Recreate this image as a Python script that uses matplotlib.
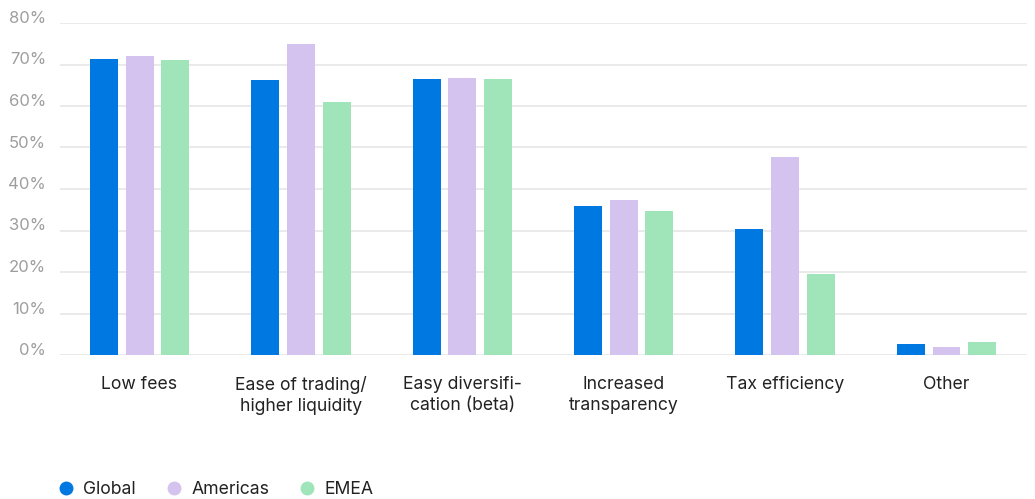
import numpy as np
import matplotlib.pyplot as plt
from matplotlib.lines import Line2D
from matplotlib.ticker import FuncFormatter

plt.rcParams['font.family'] = ['Inter', 'DejaVu Sans']

categories = ['Low fees', 'Ease of trading/\nhigher liquidity', 'Easy diversifi-\ncation (beta)',
              'Increased\ntransparency', 'Tax efficiency', 'Other']
series_names = ['Global', 'Americas', 'EMEA']
global_vals = [71.4, 66.2, 66.6, 35.8, 30.4, 2.7]
americas_vals = [72.0, 75.0, 66.8, 37.4, 47.8, 2.0]
emea_vals = [71.0, 61.0, 66.5, 34.8, 19.6, 3.1]
colors = ['#0078e2', '#d5c3ef', '#a0e4b9']

fig = plt.figure(figsize=(10.35, 4.99), dpi=100)
ax = fig.add_axes([60 / 1035, 1 - 355 / 499, (1027 - 60) / 1035, (355 - 23) / 499])

x = np.arange(len(categories))
width = 0.173
pitch = 0.221
for i, (vals, col) in enumerate(zip([global_vals, americas_vals, emea_vals], colors)):
    ax.bar(x + (i - 1) * pitch, vals, width, color=col, zorder=3)

ax.set_xlim(-0.493, 5.499)
ax.set_ylim(0, 80)
ax.set_yticks(np.arange(0, 81, 10))
ax.yaxis.set_major_formatter(FuncFormatter(lambda v, p: f'{int(v)}%'))
ax.grid(axis='y', color='#e8e8e8', linewidth=1.3, zorder=0)
for s in ax.spines.values():
    s.set_visible(False)
ax.tick_params(axis='y', length=0, pad=10, labelsize=12, labelcolor='#9e9e9e')
ax.tick_params(axis='x', length=0, pad=15, labelsize=12.7, labelcolor='#222222')
ax.set_xticks(x)
ax.set_xticklabels(categories, linespacing=1.3)
for lbl in ax.get_yticklabels():
    lbl.set_verticalalignment('baseline')

# legend along the bottom edge
handles = [Line2D([], [], marker='o', linestyle='none', markersize=9,
                  markerfacecolor=c, markeredgecolor=c) for c in colors]
fig.legend(handles, series_names, loc='lower left', bbox_to_anchor=(41 / 1035, -15 / 499),
           ncol=3, frameon=False, fontsize=12.7, handletextpad=0.5, columnspacing=1.63,
           handlelength=1.0, labelcolor='#222222')

fig.savefig('out.png', dpi=100)
